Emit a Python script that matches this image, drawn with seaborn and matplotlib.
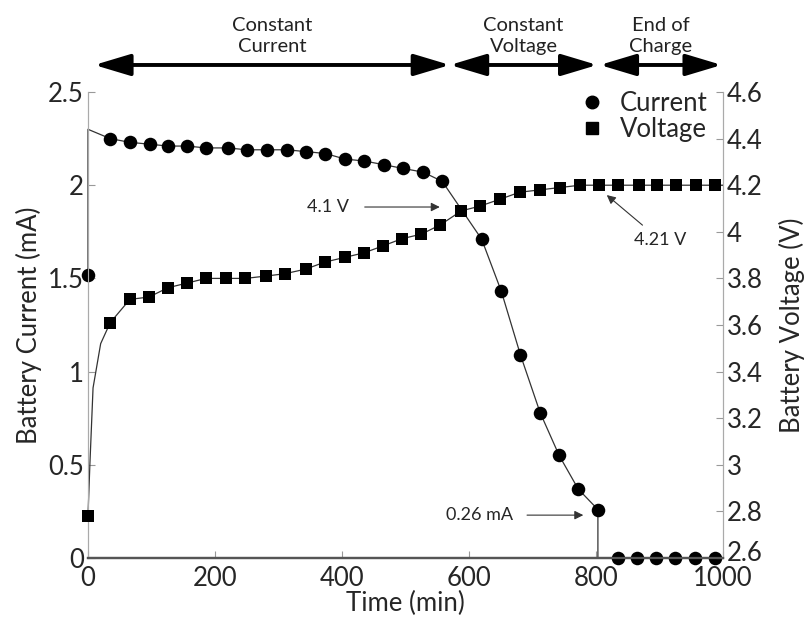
import matplotlib
matplotlib.use('Agg')
import matplotlib.pyplot as plt
import matplotlib.transforms as mtransforms
from matplotlib.lines import Line2D
import pandas as pd
import seaborn as sns

# --- data ---
cur_t = [0, 35, 66, 97, 126, 156, 186, 220, 250, 282, 313, 344, 374, 405, 435, 466,
         496, 528, 558, 620, 651, 681, 712, 742, 772, 803, 835, 865, 895, 925, 956, 987]
cur_ma = [1.52, 2.25, 2.23, 2.22, 2.21, 2.21, 2.20, 2.20, 2.19, 2.19, 2.19, 2.18, 2.17, 2.14,
          2.13, 2.11, 2.09, 2.07, 2.02, 1.71, 1.43, 1.09, 0.78, 0.55, 0.37, 0.26,
          0, 0, 0, 0, 0, 0]
# line path of the current trace (extra corner vertices: jump at t=0, drop at 803, tail to 1000)
cur_line_t = [0, 0] + cur_t[1:26] + [803, 1000]
cur_line_ma = [1.52, 2.30] + cur_ma[1:26] + [0, 0]

volt_t = [0, 35, 66, 96, 126, 156, 186, 218, 248, 280, 310, 343, 373, 404, 435, 465, 494,
          525, 555, 588, 617, 649, 680, 712, 743, 775, 805, 835, 867, 896, 926, 957, 988]
volt_v = [2.78, 3.61, 3.71, 3.72, 3.76, 3.78, 3.80, 3.80, 3.80, 3.81, 3.82, 3.84, 3.87, 3.89,
          3.91, 3.94, 3.97, 3.99, 4.03, 4.09, 4.11, 4.14, 4.17, 4.18, 4.19, 4.20, 4.20,
          4.20, 4.20, 4.20, 4.20, 4.20, 4.20]
volt_line_t = [0, 3, 8, 20] + volt_t[1:] + [1000]
volt_line_v = [2.78, 3.0, 3.33, 3.52] + volt_v[1:] + [4.20]

x_ticks = [0, 200, 400, 600, 800, 1000]
cur_ticks = [0, 0.5, 1, 1.5, 2, 2.5]
cur_tick_labels = ['0', '0.5', '1', '1.5', '2', '2.5']
volt_ticks = [2.6, 2.8, 3.0, 3.2, 3.4, 3.6, 3.8, 4.0, 4.2, 4.4, 4.6]
volt_tick_labels = ['2.6', '2.8', '3', '3.2', '3.4', '3.6', '3.8', '4', '4.2', '4.4', '4.6']

phases = [('Constant\nCurrent', 10, 570), ('Constant\nVoltage', 570, 802), ('End of\nCharge', 806, 998)]

sns.set_style('ticks')
plt.rcParams['font.family'] = ['Lato', 'DejaVu Sans']

fig = plt.figure(figsize=(8.1, 6.2), dpi=100)
ax = fig.add_axes([0.1086, 0.1, 0.784, 0.7516])
ax2 = ax.twinx()

line_col = '#333333'
cur_line = pd.DataFrame({'t': cur_line_t, 'i': cur_line_ma})
volt_line = pd.DataFrame({'t': volt_line_t, 'v': volt_line_v})
cur_pts = pd.DataFrame({'t': cur_t, 'i': cur_ma})
volt_pts = pd.DataFrame({'t': volt_t, 'v': volt_v})

sns.lineplot(data=cur_line, x='t', y='i', ax=ax, sort=False, estimator=None,
             color=line_col, lw=0.9, clip_on=False)
sns.scatterplot(data=cur_pts, x='t', y='i', ax=ax, marker='o', s=95, color='black',
                edgecolor='black', linewidth=0, clip_on=False, zorder=3)
sns.lineplot(data=volt_line, x='t', y='v', ax=ax2, sort=False, estimator=None,
             color=line_col, lw=0.9, clip_on=False)
sns.scatterplot(data=volt_pts, x='t', y='v', ax=ax2, marker='s', s=85, color='black',
                edgecolor='black', linewidth=0, clip_on=False, zorder=3)

ax.set_xlim(0, 1000)
ax.set_ylim(0, 2.5)
ax2.set_ylim(2.6, 4.6)
ax.set_xticks(x_ticks)
ax.set_yticks(cur_ticks)
ax.set_yticklabels(cur_tick_labels)
ax2.set_yticks(volt_ticks)
ax2.set_yticklabels(volt_tick_labels)

ax.set_xlabel('Time (min)', fontsize=18.5, labelpad=0)
ax.set_ylabel('Battery Current (mA)', fontsize=18.5, labelpad=4)
ax2.set_ylabel('Battery Voltage (V)', fontsize=18.5, labelpad=11)

for a in (ax, ax2):
    a.tick_params(direction='in', length=5, width=0.8, color='#999999',
                  labelsize=18.5, pad=3)
    a.spines['top'].set_visible(False)
    for s in ('left', 'right'):
        a.spines[s].set_color('#aaaaaa')
        a.spines[s].set_linewidth(0.8)
    a.spines['bottom'].set_color('#555555')
    a.spines['bottom'].set_linewidth(1.6)
ax.tick_params(axis='x', pad=6)

# lift the bottom right-hand label a little so it clears "1000"
lbl = ax2.get_yticklabels()[0]
lbl.set_transform(lbl.get_transform() + mtransforms.ScaledTranslation(0, 7 / 100, fig.dpi_scale_trans))

# phase arrows above the plot
for label, x0, x1 in phases:
    ax.annotate('', xy=(x0, 1.058), xytext=(x1, 1.058),
                xycoords=('data', 'axes fraction'), textcoords=('data', 'axes fraction'),
                arrowprops=dict(arrowstyle='<|-|>,head_length=1.1,head_width=0.33',
                                color='black', lw=2.8, mutation_scale=20,
                                shrinkA=0, shrinkB=0))
    ax.text((x0 + x1) / 2, 1.12, label, transform=ax.get_xaxis_transform(),
            ha='center', va='center', fontsize=14.5, linespacing=1.25, color='#222222')

arrow_kw = dict(arrowstyle='-|>', color='#333333', lw=0.8, mutation_scale=13)
ax.annotate('4.1 V', xy=(554, 1.883), xytext=(378, 1.883), fontsize=13,
            ha='center', va='center', arrowprops=dict(arrow_kw, shrinkA=9, shrinkB=0))
ax.annotate('4.21 V', xy=(817, 1.947), xytext=(901, 1.706), fontsize=13,
            ha='center', va='center', arrowprops=dict(arrow_kw, shrinkA=4, shrinkB=0))
ax.annotate('0.26 mA', xy=(780, 0.23), xytext=(616, 0.23), fontsize=13,
            ha='center', va='center', arrowprops=dict(arrow_kw, shrinkA=8, shrinkB=0))

handles = [Line2D([], [], marker='o', ls='none', color='black', markersize=9),
           Line2D([], [], marker='s', ls='none', color='black', markersize=8)]
ax2.legend(handles, ['Current', 'Voltage'], loc='upper right', bbox_to_anchor=(1.0, 1.035),
           frameon=False, fontsize=18.5, handletextpad=0.1, labelspacing=0.05,
           borderaxespad=0.2)

fig.savefig('out.png', dpi=100)
